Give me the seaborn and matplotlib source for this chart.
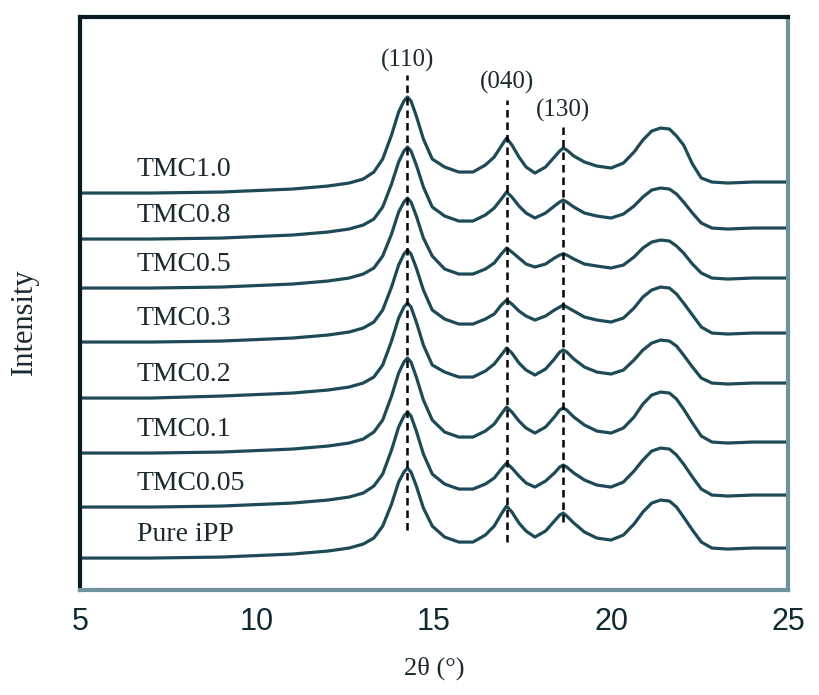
import numpy as np
import pandas as pd
import matplotlib
matplotlib.use("Agg")
import matplotlib.pyplot as plt
import seaborn as sns

# Datos (intensidad en unidades arbitrarias)
two_theta = [5, 7, 9, 11, 12, 12.6, 13.0,
             13.3, 13.55, 13.8, 14.0, 14.15, 14.25, 14.35, 14.5, 14.7, 14.95,
             15.3, 15.7, 16.1,
             16.45, 16.7, 16.9, 17.05, 17.2, 17.4, 17.6, 17.85,
             18.15, 18.4, 18.55, 18.65, 18.75, 18.95, 19.25, 19.6, 20.0,
             20.35, 20.65, 20.9, 21.15, 21.4, 21.65, 21.85, 22.05, 22.3, 22.55, 22.85, 23.3, 24, 25]

samples = ["Pure iPP", "TMC0.05", "TMC0.1", "TMC0.2", "TMC0.3", "TMC0.5", "TMC0.8", "TMC1.0"]
offsets = [32, 83, 137, 192, 248, 302, 351, 397]

pure_ipp = [0, 0, 1, 4, 7, 10, 14, 20, 32, 54, 76, 86, 90, 86, 72, 50, 32, 21, 16, 16,
            23, 32, 44, 52, 46, 35, 27, 21, 27, 37, 43, 45, 42, 35, 26, 20, 18,
            23, 34, 46, 55, 58, 57, 51, 41, 28, 16, 10, 9, 10, 10]
tmc005 = [0, 0, 1, 4, 7, 10, 14, 21, 33, 57, 80, 91, 95, 91, 76, 53, 33, 23, 18, 18,
          23, 29, 38, 44, 39, 31, 24, 20, 26, 34, 40, 42, 40, 34, 27, 22, 20,
          25, 36, 47, 56, 59, 58, 52, 43, 30, 18, 12, 11, 12, 12]
tmc01 = [0, 0, 1, 4, 7, 10, 14, 21, 33, 57, 80, 91, 95, 91, 76, 53, 33, 21, 16, 16,
         22, 29, 39, 46, 41, 32, 25, 20, 26, 36, 43, 45, 43, 36, 28, 22, 20,
         25, 36, 49, 58, 61, 60, 54, 44, 30, 17, 11, 10, 11, 11]
tmc02 = [0, 0, 2, 5, 8, 11, 15, 21, 33, 57, 80, 91, 95, 91, 76, 53, 33, 26, 21, 21,
         27, 34, 43, 50, 45, 35, 28, 23, 29, 39, 46, 48, 46, 39, 31, 26, 24,
         28, 38, 48, 55, 58, 57, 52, 43, 31, 20, 15, 14, 15, 15]
tmc03 = [0, 0, 1, 4, 7, 10, 14, 20, 32, 55, 77, 88, 92, 88, 74, 52, 32, 23, 18, 18,
         23, 28, 37, 42, 38, 31, 26, 22, 26, 32, 35, 37, 35, 31, 25, 22, 20,
         24, 34, 45, 52, 55, 54, 48, 39, 27, 15, 9, 8, 9, 9]
tmc05 = [0, 0, 1, 4, 7, 10, 14, 20, 32, 54, 76, 86, 90, 86, 72, 50, 32, 19, 14, 14,
         19, 25, 34, 40, 36, 30, 24, 21, 24, 30, 33, 34, 33, 29, 24, 22, 20,
         23, 31, 40, 46, 48, 47, 42, 35, 24, 15, 10, 9, 10, 10]
tmc08 = [0, 0, 1, 4, 7, 10, 14, 20, 32, 55, 77, 88, 92, 88, 74, 52, 32, 23, 18, 18,
         24, 31, 40, 47, 42, 33, 26, 21, 26, 33, 37, 39, 37, 32, 26, 23, 21,
         25, 33, 42, 49, 51, 50, 45, 37, 26, 16, 11, 10, 11, 11]
tmc10 = [0, 0, 1, 4, 7, 10, 14, 21, 34, 58, 81, 92, 96, 92, 77, 54, 34, 26, 21, 21,
         28, 36, 47, 55, 48, 36, 26, 20, 26, 36, 42, 45, 43, 37, 31, 27, 25,
         30, 41, 53, 62, 65, 64, 57, 48, 29, 15, 11, 10, 11, 11]
profiles = [pure_ipp, tmc005, tmc01, tmc02, tmc03, tmc05, tmc08, tmc10]

# Picos marcados: posición, etiqueta, extremos de la línea discontinua y altura de la etiqueta
peak_pos = [14.25, 17.05, 18.65]
peak_labels = ["(110)", "(040)", "(130)"]
peak_line_top = [515, 490, 465]
peak_line_bottom = [60, 48, 68]
peak_label_y = [530, 508, 480]

rows = []
for name, off, prof in zip(samples, offsets, profiles):
    for x, h in zip(two_theta, prof):
        rows.append({"two_theta": x, "intensity": off + h, "sample": name})
data = pd.DataFrame(rows)

sns.set_style("white")
plt.rcParams["font.family"] = ["Liberation Serif", "DejaVu Serif"]

fig = plt.figure(figsize=(8.2, 6.95), dpi=100)
ax = fig.add_axes([0.0976, 0.151, 0.8634, 0.8245])

line_color = "#1d4a56"
sns.lineplot(data=data, x="two_theta", y="intensity", hue="sample", hue_order=samples,
             palette=[line_color] * len(samples), estimator=None, sort=False,
             legend=False, linewidth=2.3, ax=ax)

for pos, lab, top, bot, ly in zip(peak_pos, peak_labels, peak_line_top, peak_line_bottom, peak_label_y):
    ax.plot([pos, pos], [bot, top], color="black", linestyle=(0, (3, 2)), linewidth=1.8)
    ax.text(pos, ly, lab, ha="center", va="center", fontsize=18, color="#1a2a30")

for name, off in zip(samples, offsets):
    ax.text(6.6, off + 24, name, ha="left", va="center", fontsize=20, color="#1a2a30")

ax.set_xlim(5, 25)
ax.set_ylim(0, 573)
ax.set_xticks([5, 10, 15, 20, 25])
ax.set_xticks([7.5, 12.5, 17.5, 22.5], minor=True)
ax.set_yticks([])
ax.tick_params(axis="x", which="major", direction="in", length=11, width=2,
               pad=12, labelsize=22, colors="#0e2a33")
ax.tick_params(axis="x", which="minor", direction="in", length=8, width=2, colors="#0e2a33")
for lbl in ax.get_xticklabels():
    lbl.set_family(["Liberation Sans", "DejaVu Sans"])

ax.spines["top"].set_color("#0a1a22")
ax.spines["left"].set_color("#0a1a22")
ax.spines["bottom"].set_color("#6f929c")
ax.spines["right"].set_color("#6f929c")
for s in ax.spines.values():
    s.set_linewidth(3)

ax.set_xlabel("2θ (°)", fontsize=19, labelpad=14, color="#1a2a30")
ax.set_ylabel("Intensity", fontsize=22, color="#1a2a30")
ax.yaxis.set_label_coords(-0.058, 0.468)

fig.savefig("out.png", dpi=100)
